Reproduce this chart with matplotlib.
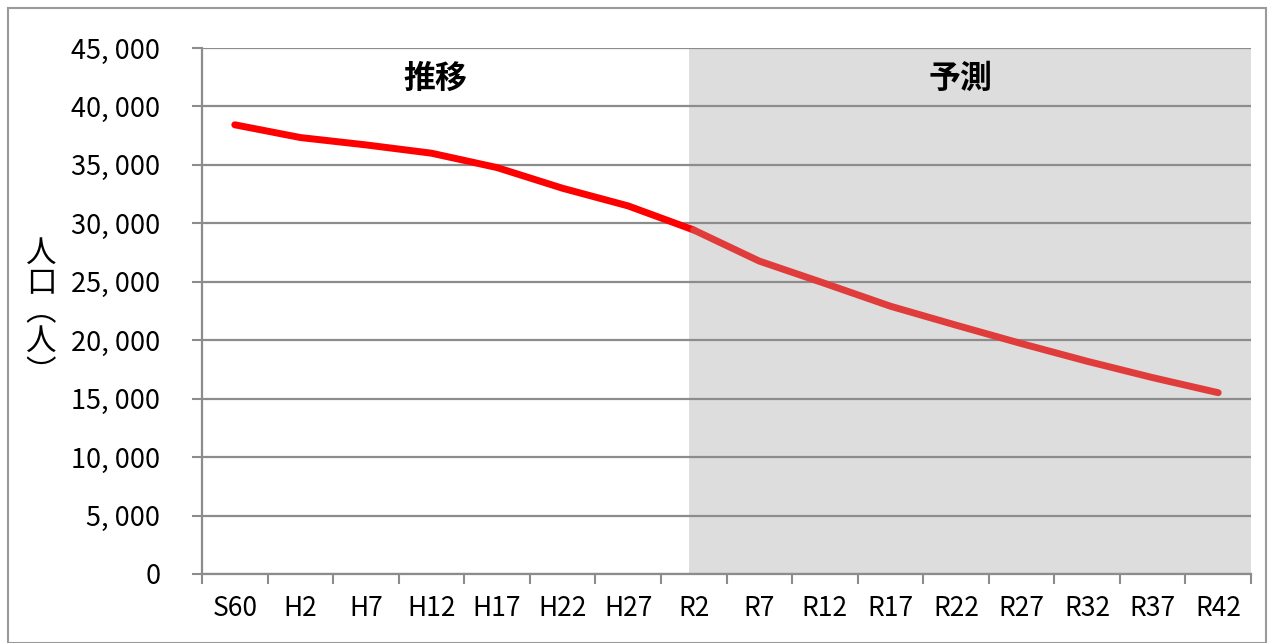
import matplotlib
matplotlib.use("Agg")
import matplotlib.pyplot as plt
from matplotlib.patches import Rectangle

categories = ["S60", "H2", "H7", "H12", "H17", "H22", "H27", "R2",
              "R7", "R12", "R17", "R22", "R27", "R32", "R37", "R42"]
population = [38430, 37340, 36710, 36000, 34770, 33000, 31490, 29430,
              26770, 24860, 22910, 21290, 19710, 18200, 16800, 15510]
forecast_start = "R2"
section_labels = ["推移", "予測"]
y_ticks = list(range(0, 45001, 5000))
y_label_chars = ["人", "口", "︵", "人", "︶"]

jp = "Noto Sans CJK JP"
plt.rcParams['font.family'] = [jp, 'DejaVu Sans']

W, H = 1271, 643
fig = plt.figure(figsize=(W / 100, H / 100), dpi=100)
ax = fig.add_axes([202 / W, 1 - 574 / H, (1251 - 202) / W, (574 - 48) / H])

x = list(range(len(categories)))
k = categories.index(forecast_start)
grey = "#8C8C8C"

ax.axvspan(k - 0.07, len(categories) - 0.5, color="#DDDDDD", zorder=0.1, lw=0)
ax.plot(x[:k + 1], population[:k + 1], color="#FF0000", lw=5,
        solid_capstyle="round", solid_joinstyle="round", zorder=3)
ax.plot(x[k:], population[k:], color="#E03C3C", lw=5,
        solid_capstyle="round", solid_joinstyle="round", zorder=3)

ax.set_xlim(-0.5, len(categories) - 0.5)
ax.set_ylim(0, 45000)
ax.set_yticks(y_ticks)
ax.set_yticklabels([f"{v:,}".replace(",", ", ") for v in y_ticks], fontsize=19.5)
ax.set_xticks(x)
ax.set_xticklabels(categories, fontsize=19)
ax.set_xticks([i - 0.5 for i in range(len(categories) + 1)], minor=True)
ax.tick_params(axis="x", which="major", length=0, pad=15)
ax.tick_params(axis="x", which="minor", length=7, width=1.5, color=grey)
ax.tick_params(axis="y", length=7, width=1.5, color=grey, pad=23)

ax.set_axisbelow(True)
ax.yaxis.grid(True, color=grey, lw=1.6)
for s in ["top", "right"]:
    ax.spines[s].set_visible(False)
for s in ["left", "bottom"]:
    ax.spines[s].set_color(grey)
    ax.spines[s].set_linewidth(1.6)

ax.text((-0.5 + k - 0.07) / 2 - 0.15, 42400, section_labels[0], ha="center", va="center",
        fontsize=23, fontweight="bold")
ax.text((k - 0.07 + len(categories) - 0.5) / 2 - 0.15, 42400, section_labels[1],
        ha="center", va="center", fontsize=23, fontweight="bold")

# vertical y-axis label: stacked characters (vertical-form brackets)
label_y_px = [253, 283.5, 311.5, 341, 373.5]
for ch, yp in zip(y_label_chars, label_y_px):
    fig.text(41 / W, 1 - yp / H, ch, ha="center", va="center", fontsize=22)

fig.patches.append(Rectangle((8 / W, 0), (1266 - 8) / W, 1 - 8 / H,
                             transform=fig.transFigure, fill=False,
                             edgecolor="#9A9A9A", lw=1.5))

fig.savefig("out.png", dpi=100)
